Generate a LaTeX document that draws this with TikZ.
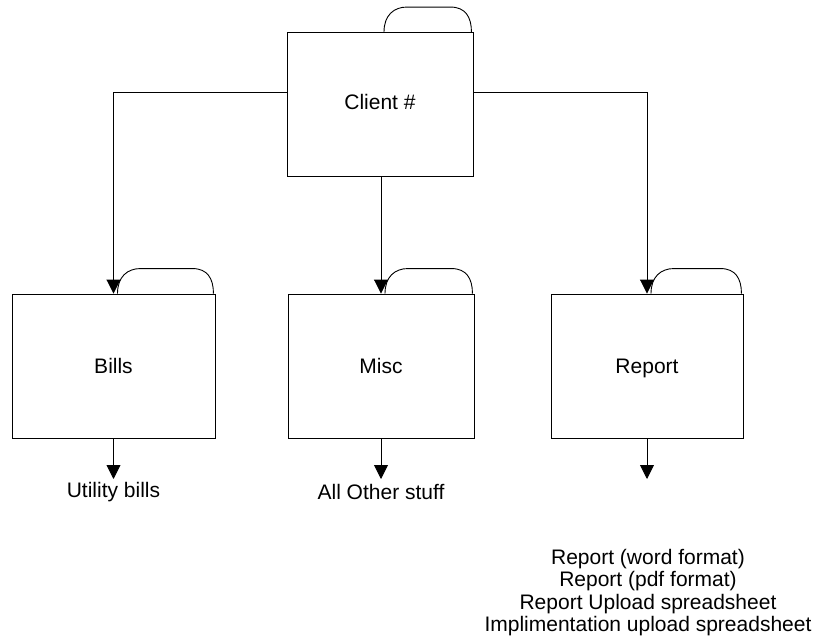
\documentclass[tikz,border=0pt]{standalone}
\usepackage{fontspec}
\setmainfont{Liberation Sans}
\usetikzlibrary{arrows.meta,calc}
\tikzset{
  folderbox/.style={draw=black, line width=0.9pt, rectangle, minimum height=144pt, inner sep=0pt, text height=15pt, text depth=1pt, font=\fontsize{21}{22.5}\selectfont},
  conn/.style={draw=black, line width=0.9pt, -{Triangle[width=14pt,length=14pt]}},
  lbl/.style={font=\fontsize{21}{22.5}\selectfont, align=center, inner sep=0pt},
  tabline/.style={draw=black, line width=0.9pt}
}
\newcommand{\foldertab}[1]{%
  \draw[tabline] ($(#1.north)+(4,0)$) .. controls +(0,-17) and +(-13,0) .. ($(#1.north)+(27,-25)$)
    -- ($(#1.north east)+(-23,-25)$) .. controls +(15,0) and +(0,-15) .. ($(#1.north east)+(-2,0)$);}
\begin{document}
\begin{tikzpicture}[x=1pt,y=-1pt]
\useasboundingbox (0,0) rectangle (815,637);
\node[folderbox, minimum width=186pt, text depth=6pt] (client) at (380,104.5) {Client \#};
\node[folderbox, minimum width=203pt] (bills) at (113.5,366) {Bills};
\node[folderbox, minimum width=186pt] (misc) at (381,366) {Misc};
\node[folderbox, minimum width=192pt] (report) at (647,366) {Report};
\foldertab{client}
\foldertab{bills}
\foldertab{misc}
\foldertab{report}
\draw[conn] (client.west |- 0,92) -| (bills.north);
\draw[conn] (client.east |- 0,92) -| (report.north);
\draw[conn] (client.south -| misc.north) -- (misc.north);
\coordinate (bt) at (113.5,479);
\coordinate (mt) at (381,479);
\coordinate (rt) at (647,479);
\draw[conn] (bills.south) -- (bt);
\draw[conn] (misc.south) -- (mt);
\draw[conn] (report.south) -- (rt);
\node[lbl] (ub) at (113.5,492) {Utility bills};
\node[lbl] (ao) at (381,492) {All Other stuff};
\node[lbl, anchor=north] (rl) at (648,549) {Report (word format)\\Report (pdf format)\\Report Upload spreadsheet\\Implimentation upload spreadsheet};
\end{tikzpicture}
\end{document}
